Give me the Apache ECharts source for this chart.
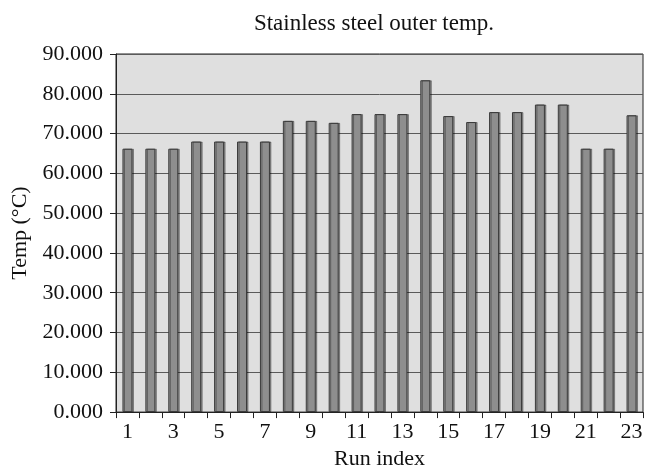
<!DOCTYPE html>
<html><head><meta charset="utf-8">
<script src="https://cdn.jsdelivr.net/npm/echarts@6/dist/echarts.min.js"></script>
<style>html,body{margin:0;padding:0;background:#fff}#c{width:658px;height:475px}</style>
</head><body><div id="c"></div>
<script>
var categories = ['1','2','3','4','5','6','7','8','9','10','11','12','13','14','15','16','17','18','19','20','21','22','23'];
var temps = [66.2,66.2,66.2,68.0,68.0,68.0,68.0,73.2,73.2,72.7,74.9,74.9,74.9,83.4,74.4,72.9,75.4,75.4,77.3,77.3,66.2,66.2,74.6];
var yTicks = {min:0, max:90, interval:10};
var font = 'Liberation Serif';
var chart = echarts.init(document.getElementById('c'));
chart.setOption({
  animation:false,
  title:{text:'Stainless steel outer temp.', left:369, top:7, textAlign:'center',
    textStyle:{fontFamily:font, fontSize:23, fontWeight:'normal', color:'#111'}},
  grid:{left:116, right:15, top:54, bottom:61, show:true, backgroundColor:'#dfdfdf', borderColor:'#222', borderWidth:1},
  xAxis:{type:'category', data:categories, name:'Run index', nameLocation:'middle', nameGap:34,
    nameTextStyle:{fontFamily:font, fontSize:22, color:'#111'},
    axisLine:{lineStyle:{color:'#222', width:1}},
    axisTick:{show:true, interval:0, length:6, lineStyle:{color:'#222'}},
    axisLabel:{interval:1, fontFamily:font, fontSize:22, color:'#111', margin:9},
    splitLine:{show:false}},
  yAxis:{type:'value', min:yTicks.min, max:yTicks.max, interval:yTicks.interval,
    name:'Temp (°C)', nameLocation:'middle', nameGap:81,
    nameTextStyle:{fontFamily:font, fontSize:22, color:'#111'},
    axisLine:{show:true, lineStyle:{color:'#222', width:1}},
    axisTick:{show:true, length:6, lineStyle:{color:'#222'}},
    axisLabel:{fontFamily:font, fontSize:22, color:'#111', margin:13, formatter:function(v){return v.toFixed(3);}},
    splitLine:{show:true, lineStyle:{color:'#5a5a5a', width:1}}},
  series:[{type:'bar', data:temps, barWidth:10,
    itemStyle:{color:'#8e8e8e', borderColor:'#3a3a3a', borderWidth:1,
      shadowColor:'rgba(0,0,0,0.35)', shadowOffsetX:1.5, shadowOffsetY:0, shadowBlur:0}}]
});
</script></body></html>
